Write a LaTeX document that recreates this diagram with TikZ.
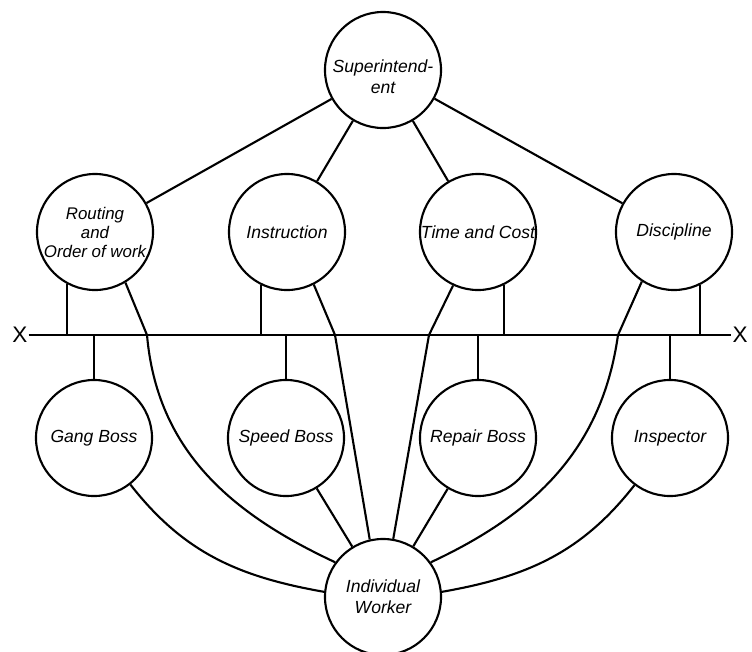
\documentclass[tikz,border=0pt]{standalone}
\usepackage{fontspec}
\newfontfamily\letterfont{Liberation Sans}

\begin{document}
\begin{tikzpicture}[x=0.025cm, y=-0.025cm, line width=1.5pt,
    office/.style={draw, circle, minimum size=2.9cm, inner sep=0pt, align=center,
      font=\letterfont\itshape\fontsize{12.5}{15}\selectfont},
    crossmark/.style={inner sep=0pt, font=\letterfont\fontsize{16}{16}\selectfont}]

  \useasboundingbox (0,0) rectangle (752,652);

  % upper row
  \node[office] (sup) at (383,70) {\mbox{}\\[3pt]Superintend-\\ent};
  \node[office, font=\letterfont\itshape\fontsize{12}{13.5}\selectfont] (rout) at (95,232)
    {Routing\\and\\Order of work};
  \node[office] (instr) at (287,232) {Instruction};
  \node[office] (time) at (478,232) {Time and Cost};
  \node[office] (disc) at (674,232) {Discipline};

  % the line X -- X
  \node[crossmark] (xl) at (20,335) {X};
  \node[crossmark] (xr) at (740,335) {X};
  \draw (xl) -- (xr);
  \coordinate (c1) at (147,335);
  \coordinate (c2) at (335,335);
  \coordinate (c3) at (429,335);
  \coordinate (c4) at (618,335);

  % lower row
  \node[office] (gang) at (94,438) {Gang Boss};
  \node[office] (speed) at (286,438) {Speed Boss};
  \node[office] (repair) at (478,438) {Repair Boss};
  \node[office] (insp) at (670,438) {Inspector};
  \node[office] (work) at (383,597) {Individual\\Worker};

  \foreach \n in {rout, instr, time, disc}
  {
    \draw (sup) -- (\n);
  }
  \foreach \n/\a in {rout/242, instr/244, time/296, disc/296}
  {
    \draw (\n.\a) -- (\n.\a |- xl);
  }
  \foreach \n in {gang, speed, repair, insp}
  {
    \draw (\n) -- (\n |- xl);
  }

  \draw (rout.301) -- (c1) to[out=-85, in=155] (work.144);
  \draw (instr.297) -- (c2) -- (work.103);
  \draw (time.245) -- (c3) -- (work.80);
  \draw (disc.237) -- (c4) to[out=-98, in=25] (work.36);

  \draw (gang.-52) to[out=-52, in=170] (work.175);
  \draw (speed) -- (work);
  \draw (repair) -- (work);
  \draw (insp.233) to[out=232, in=10] (work.5);

\end{tikzpicture}
\end{document}
